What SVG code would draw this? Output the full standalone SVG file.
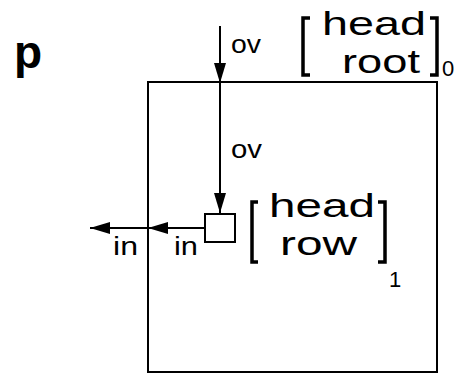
<svg xmlns="http://www.w3.org/2000/svg" width="461" height="374" viewBox="0 0 461 374">
<style>
.t{font-family:"Liberation Sans",Arial,sans-serif;fill:#000}
.lbl{font-size:25px}
.big{font-size:33.5px}
.sub{font-size:22px}
.br{fill:none;stroke:#000;stroke-width:3.5;stroke-linecap:butt;stroke-linejoin:miter}
.ln{fill:none;stroke:#000;stroke-width:2}
.box{fill:#fff;stroke:#000;stroke-width:2}
</style>
<defs>
<marker id="ah" viewBox="0 0 20 12" refX="20" refY="6" markerWidth="20" markerHeight="12" markerUnits="userSpaceOnUse" orient="auto">
<path d="M0,0 L20,6 L0,12 Z" fill="#000"/>
</marker>
</defs>
<rect width="461" height="374" fill="#fff"/>
<text class="t" x="14" y="68" style="font-size:46px;font-weight:bold">p</text>
<g id="root">
<rect class="box" x="148" y="82" width="289" height="290"/>
<path class="br" d="M310,18 H303 V75 H310"/>
<path class="br" d="M430,18 H437 V75 H430"/>
<text class="t big" x="322" y="35" textLength="104" lengthAdjust="spacingAndGlyphs">head</text>
<text class="t big" x="342" y="73" textLength="78" lengthAdjust="spacingAndGlyphs">root</text>
<text class="t sub" x="442" y="76">0</text>
</g>
<g id="row">
<rect class="box" x="205" y="214" width="30" height="28"/>
<path class="br" d="M258,202 H252 V262 H258"/>
<path class="br" d="M378,202 H385 V262 H378"/>
<text class="t big" x="269" y="217" textLength="106" lengthAdjust="spacingAndGlyphs">head</text>
<text class="t big" x="280" y="255" textLength="77" lengthAdjust="spacingAndGlyphs">row</text>
<text class="t sub" x="389" y="287">1</text>
</g>
<g id="connectors">
<line class="ln" x1="220" y1="26" x2="220" y2="83" marker-end="url(#ah)"/>
<line class="ln" x1="220" y1="83" x2="220" y2="213" marker-end="url(#ah)"/>
<line class="ln" x1="205" y1="228" x2="148" y2="228" marker-end="url(#ah)"/>
<line class="ln" x1="148" y1="228" x2="90" y2="228" marker-end="url(#ah)"/>
<text class="t lbl" x="231" y="53" textLength="30" lengthAdjust="spacingAndGlyphs">ov</text>
<text class="t lbl" x="231" y="158" textLength="31" lengthAdjust="spacingAndGlyphs">ov</text>
<text class="t lbl" x="113" y="255" textLength="25" lengthAdjust="spacingAndGlyphs">in</text>
<text class="t lbl" x="174" y="255" textLength="24" lengthAdjust="spacingAndGlyphs">in</text>
</g>
</svg>
